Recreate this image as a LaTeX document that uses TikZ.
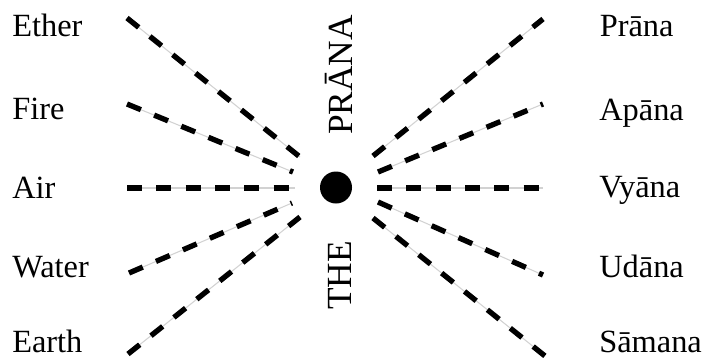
\documentclass[tikz,border=0pt]{standalone}
\usepackage{fontspec}
\setmainfont{Liberation Serif}
\tikzset{
  lbl/.style={font=\fontsize{24.3}{28}\selectfont, anchor=base west, inner sep=0pt},
  vlbl/.style={font=\fontsize{26.5}{30}\selectfont, anchor=base west, inner sep=0pt, rotate=90},
  ray/.style={line width=4pt, dash pattern=on 11.25pt off 10.75pt,
    preaction={draw, solid, gray!35, line width=0.8pt}},
  core/.style={circle, fill=black, inner sep=0pt, minimum size=24pt}
}
\begin{document}
\begin{tikzpicture}[x=0.75pt,y=-0.75pt]
\useasboundingbox (0,0) rectangle (705,358);
% labels
\node[lbl] (ether) at (12,36) {Ether};
\node[lbl] (fire) at (12,119.5) {Fire};
\node[lbl] (air) at (12,198.5) {Air};
\node[lbl] (water) at (12,277) {Water};
\node[lbl] (earth) at (12,352.5) {Earth};
\node[lbl] (prana) at (599.5,36.5) {Prāna};
\node[lbl] (apana) at (599,120.5) {Apāna};
\node[lbl] (vyana) at (599,197.5) {Vyāna};
\node[lbl] (udana) at (599,277) {Udāna};
\node[lbl] (samana) at (599,352.5) {Sāmana};
% centre
\node[core] (c) at (336,187.5) {};
\node[vlbl] (tp) at (352,135) {PRĀNA};
\node[vlbl] (tt) at (351,310) {THE};
% ray ends
\coordinate (e1) at (127,18);   \coordinate (e2) at (300,157);
\coordinate (f1) at (127,104);  \coordinate (f2) at (293,172);
\coordinate (a1) at (127,188);  \coordinate (a2) at (295,188);
\coordinate (w1) at (129,273);  \coordinate (w2) at (292,203);
\coordinate (h1) at (128,354);  \coordinate (h2) at (300,217);
\coordinate (p2) at (373,156);  \coordinate (p1) at (543,19);
\coordinate (q2) at (378,172);  \coordinate (q1) at (543,104);
\coordinate (v2) at (377,188);  \coordinate (v1) at (543,188);
\coordinate (u2) at (378,202);  \coordinate (u1) at (543,275);
\coordinate (s2) at (373,218);  \coordinate (s1) at (545,356);
% rays
\draw[ray] (e1) -- (e2);
\draw[ray] (f1) -- (f2);
\draw[ray] (a1) -- (a2);
\draw[ray] (w1) -- (w2);
\draw[ray] (h1) -- (h2);
\draw[ray] (p2) -- (p1);
\draw[ray] (q2) -- (q1);
\draw[ray] (v2) -- (v1);
\draw[ray] (u2) -- (u1);
\draw[ray] (s2) -- (s1);
\end{tikzpicture}
\end{document}
